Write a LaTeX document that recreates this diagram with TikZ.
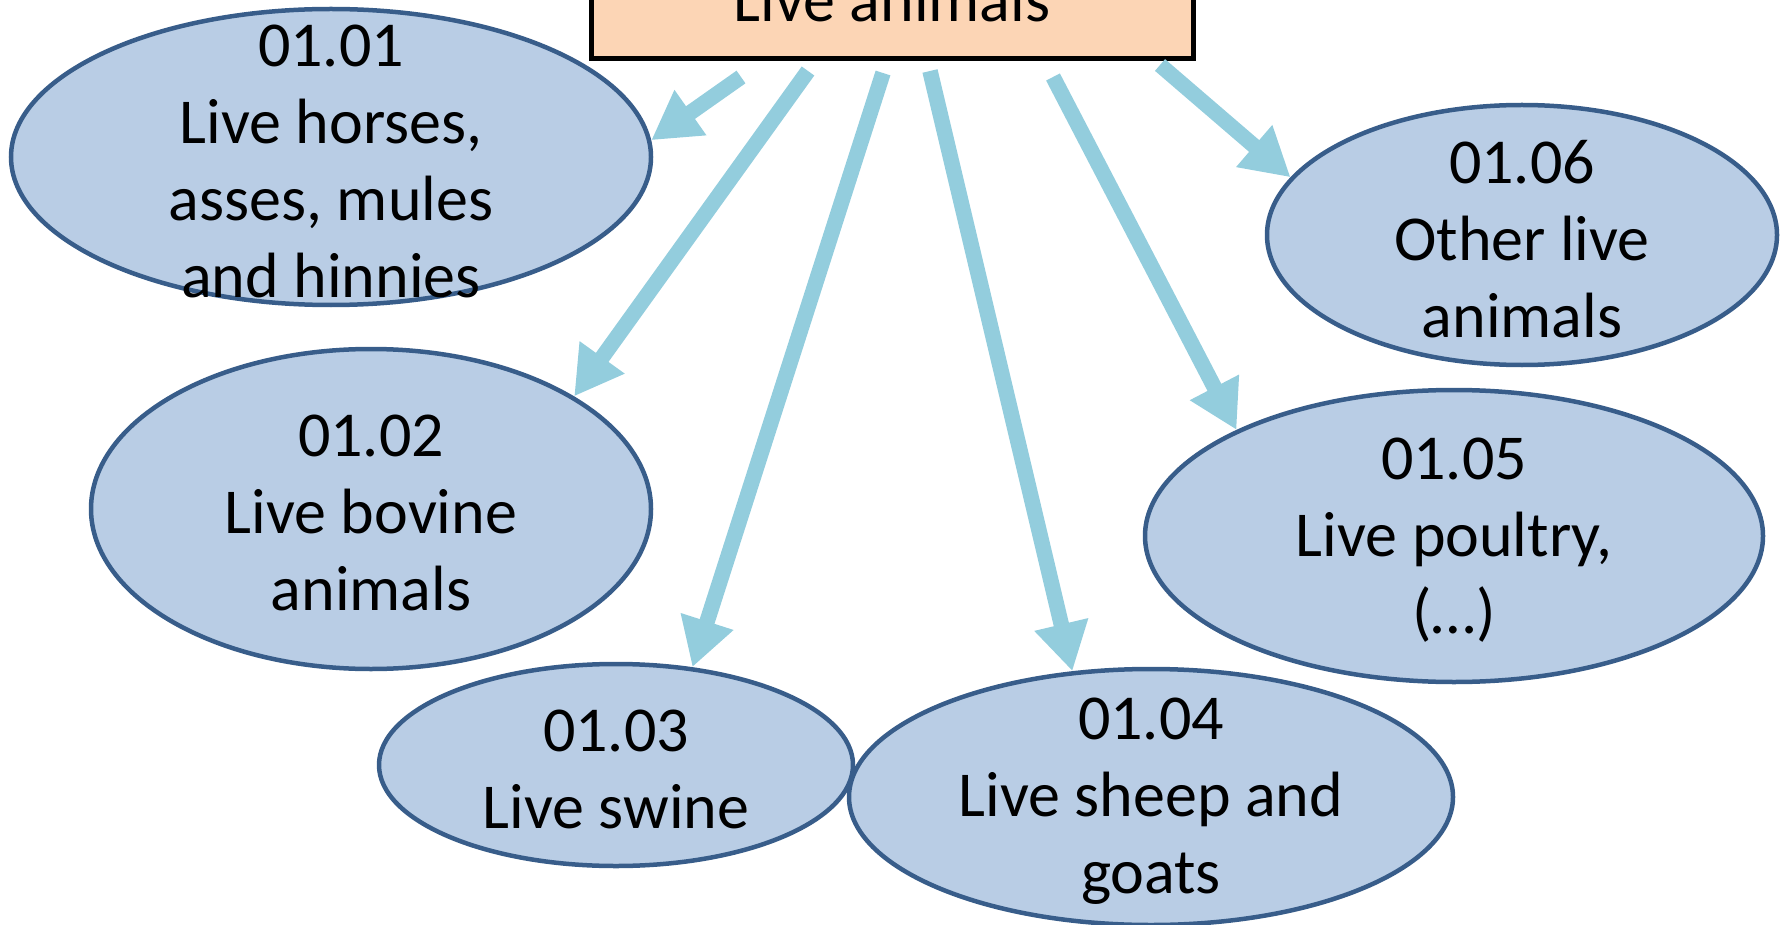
\documentclass[tikz,border=0pt]{standalone}
\usepackage{fontspec}
\setmainfont{Carlito}
\usetikzlibrary{arrows.meta,shapes.geometric}

\definecolor{ellfill}{HTML}{B9CDE5}
\definecolor{elldraw}{HTML}{385D8A}
\definecolor{arrblue}{HTML}{93CDDD}
\definecolor{boxfill}{HTML}{FCD5B5}

\begin{document}
\begin{tikzpicture}[x=1pt,y=-1pt,
    hscode/.style={ellipse, draw=elldraw, fill=ellfill, line width=4.5pt, inner sep=0pt},
    hstext/.style={align=center, inner sep=0pt, yshift=-4pt, font=\fontsize{64}{77}\selectfont},
    topbox/.style={draw=black, fill=boxfill, line width=5pt, inner sep=0pt,
      font=\fontsize{64}{77}\selectfont},
    arr/.style={draw=arrblue, line width=15.5pt, -{Triangle[length=48pt,width=52pt]}}]

    \clip (0,0) rectangle (1785,925);

    \node[topbox, minimum width=602pt, minimum height=118pt] (live) at (892,0) {Live animals};

    \node[hscode, minimum width=640pt, minimum height=296pt] (e1) at (331,157) {};
    \node[hscode, minimum width=560pt, minimum height=320pt] (e2) at (371,509) {};
    \node[hscode, minimum width=474pt, minimum height=202pt] (e3) at (616,765) {};
    \node[hscode, minimum width=604pt, minimum height=256pt] (e4) at (1151,797) {};
    \node[hscode, minimum width=618pt, minimum height=292pt] (e5) at (1454,536) {};
    \node[hscode, minimum width=510pt, minimum height=260pt] (e6) at (1522,235) {};

    \node[hstext] (t1) at (e1) {01.01\\Live horses,\\asses, mules\\and hinnies};
    \node[hstext] (t2) at (e2) {01.02\\Live bovine\\animals};
    \node[hstext] (t3) at (e3) {01.03\\Live swine};
    \node[hstext] (t4) at (e4) {01.04\\Live sheep and\\goats};
    \node[hstext] (t5) at (e5) {01.05\\Live poultry,\\(\dots)};
    \node[hstext] (t6) at (e6) {01.06\\Other live\\animals};

    % arrow starts below the box
    \coordinate (s1) at (741,77);
    \coordinate (s2) at (808,71);
    \coordinate (s3) at (883,73);
    \coordinate (s4) at (930,71);
    \coordinate (s5) at (1053,77);
    \coordinate (s6) at (1160,65);

    \draw[arr] (s1) -- (e1.3.6);
    \draw[arr] (s2) -- (e2.29.4);
    \draw[arr] (s3) -- (e3.52.5);
    \draw[arr] (s4) -- (e4.122.1);
    \draw[arr] (s5) -- (e5.154.8);
    \draw[arr] (s6) -- (e6.166.3);
\end{tikzpicture}
\end{document}
